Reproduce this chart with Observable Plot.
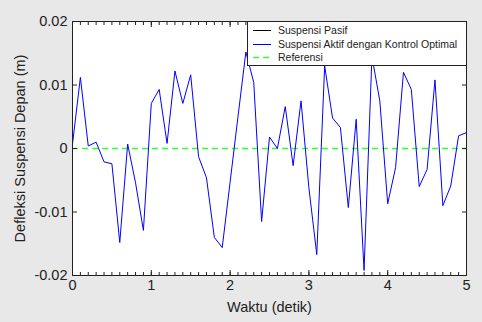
<!DOCTYPE html>
<html><head><meta charset="utf-8">
<script src="https://cdn.jsdelivr.net/npm/d3@7"></script>
<script src="https://cdn.jsdelivr.net/npm/@observablehq/plot@0.6"></script>
<style>
html,body{margin:0;padding:0;background:#e8e8e8;}
#wrap{position:relative;width:482px;height:322px;overflow:hidden;font-family:"Liberation Sans",Arial,sans-serif;}
#wrap svg{display:block;}
#legend{position:absolute;left:247px;top:21px;width:220px;height:45px;background:#fff;border:1px solid #222;box-sizing:border-box;font-size:10.5px;color:#222;}
#legend .row{position:absolute;left:0;height:13px;line-height:13px;white-space:nowrap;}
#legend svg{position:absolute;left:5px;top:0;}
#legend span{position:absolute;left:30px;top:0;}
</style></head><body><div id="wrap"></div>
<script>
// Data
const time = [0.0,0.1,0.2,0.3,0.4,0.5,0.6,0.7,0.8,0.9,1.0,1.1,1.2,1.3,1.4,1.5,1.6,1.7,1.8,1.9,2.0,2.1,2.2,2.3,2.4,2.5,2.6,2.7,2.8,2.9,3.0,3.1,3.2,3.3,3.4,3.5,3.6,3.7,3.8,3.9,4.0,4.1,4.2,4.3,4.4,4.5,4.6,4.7,4.8,4.9,5.0];
const aktif = [0.0007,0.0112,0.0004,0.0010,-0.0021,-0.0024,-0.0148,0.0007,-0.0054,-0.0129,0.0071,0.0093,0.0008,0.0122,0.0071,0.0116,-0.0013,-0.0046,-0.0140,-0.0156,-0.0053,0.0050,0.0152,0.0104,-0.0115,0.0018,0.0000,0.0066,-0.0027,0.0075,-0.0062,-0.0167,0.0130,0.0048,0.0033,-0.0093,0.0046,-0.0192,0.0145,0.0075,-0.0087,-0.0030,0.0120,0.0093,-0.0060,-0.0033,0.0108,-0.0090,-0.0059,0.0020,0.0025];
const referensi = [0];
const seriesNames = ["Suspensi Pasif","Suspensi Aktif dengan Kontrol Optimal","Referensi"];
const xTicks = [0,1,2,3,4,5];
const yTicks = [-0.02,-0.01,0,0.01,0.02];
const xLabel = "Waktu (detik)";
const yLabel = "Defleksi Suspensi Depan (m)";

// Styles
const seriesColors = ["#000000","#0000ff","#33ff33"];
const seriesDash = [null,null,"6,4"];

const data = time.map((t,i)=>({t, v: aktif[i]}));
const xMinor = d3.range(0, 51).map(i => i/10);

const chart = Plot.plot({
  width: 482, height: 322,
  marginLeft: 72, marginRight: 16, marginTop: 21, marginBottom: 47,
  style: {background: "transparent", fontFamily: '"Liberation Sans",Arial,sans-serif', fontSize: "14.5px", color: "#222"},
  x: {domain: [0,5]},
  y: {domain: [-0.02,0.02]},
  marks: [
    Plot.frame({fill: "white", stroke: null}),
    Plot.ruleY(referensi, {stroke: seriesColors[2], strokeDasharray: seriesDash[2], strokeWidth: 1.3}),
    Plot.line(data, {x: "t", y: "v", stroke: seriesColors[1], strokeWidth: 1}),
    Plot.axisX({anchor: "bottom", ticks: xTicks, tickSize: 0, tickPadding: 4, tickFormat: d => String(d), fontSize: 14.5,
      label: xLabel, labelAnchor: "center", labelArrow: "none", labelOffset: 36}),
    Plot.axisX({anchor: "bottom", ticks: xMinor, tickSize: -3, text: null, label: null}),
    Plot.axisX({anchor: "top", ticks: xMinor, tickSize: -3, text: null, label: null}),
    Plot.axisX({anchor: "bottom", ticks: xTicks, tickSize: -5, text: null, label: null}),
    Plot.axisX({anchor: "top", ticks: xTicks, tickSize: -5, text: null, label: null}),
    Plot.axisY({anchor: "left", ticks: yTicks, tickSize: 0, tickPadding: 5, tickFormat: d => String(d), fontSize: 14.5,
      label: yLabel, labelAnchor: "center", labelArrow: "none", labelOffset: 58}),
    Plot.axisY({anchor: "left", ticks: yTicks, tickSize: -5, text: null, label: null}),
    Plot.axisY({anchor: "right", ticks: yTicks, tickSize: -5, text: null, label: null}),
    Plot.frame({stroke: "#222", strokeWidth: 1})
  ]
});
const wrap = document.getElementById("wrap");
wrap.appendChild(chart);

// Legend
const leg = document.createElement("div");
leg.id = "legend";
seriesNames.forEach((name, i) => {
  const row = document.createElement("div");
  row.className = "row";
  row.style.top = (2 + i*13.5) + "px";
  row.style.width = "100%";
  const dash = seriesDash[i] ? `stroke-dasharray="${seriesDash[i]}"` : "";
  row.innerHTML = `<svg width="20" height="13"><line x1="0" x2="18" y1="6.5" y2="6.5" stroke="${seriesColors[i]}" stroke-width="${i===2?1.3:1}" ${dash}/></svg><span>${name}</span>`;
  leg.appendChild(row);
});
wrap.appendChild(leg);
</script>
</body></html>
